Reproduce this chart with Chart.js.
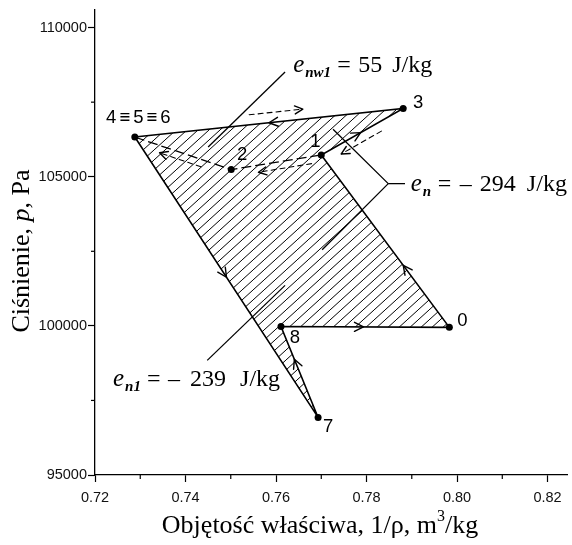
<!DOCTYPE html>
<html>
<head>
<meta charset="utf-8">
<script src="https://cdn.jsdelivr.net/npm/chart.js@4/dist/chart.umd.min.js"></script>
<style>
  html, body { margin: 0; padding: 0; background: #fff; }
</style>
</head>
<body>
<canvas id="c" width="572" height="545"></canvas>
<script>
// state points of the cycle: specific volume 1/rho [m3/kg], pressure p [Pa]
const pointNames  = ['0', '1', '2', '3', '4', '7', '8'];
const specVolume  = [0.7983, 0.7700, 0.7501, 0.7881, 0.7288, 0.7693, 0.7611];
const pressure    = [99950, 105730, 105240, 107290, 106330, 96930, 99980];
const pointLabels = ['0', '1', '2', '3', '4≡5≡6', '7', '8'];

// order of points along the closed (hatched) cycle and the dashed branch
const cycleOrder  = ['4', '3', '1', '0', '8', '7', '4'];
const dashedOrder = ['4', '2', '1'];

// axis ticks (major labelled, minor unlabelled)
const xTickValues = [0.72, 0.74, 0.76, 0.78, 0.80, 0.82];
const xTickLabels = ['0.72', '0.74', '0.76', '0.78', '0.80', '0.82'];
const xMinorTicks = [0.73, 0.75, 0.77, 0.79, 0.81];
const yTickValues = [95000, 100000, 105000, 110000];
const yTickLabels = ['95000', '100000', '105000', '110000'];
const yMinorTicks = [97500, 102500, 107500];

const pt = name => {
  const i = pointNames.indexOf(name);
  return { x: specVolume[i], y: pressure[i] };
};

// hatch pattern for the enclosed area (lines rising to the right)
const hatch = (function () {
  const w = 11, h = 10;
  const pc = document.createElement('canvas');
  pc.width = w; pc.height = h;
  const g = pc.getContext('2d');
  g.strokeStyle = '#000';
  g.lineWidth = 1.0;
  g.beginPath();
  for (let k = -1; k <= 1; k++) { g.moveTo(k * w, h); g.lineTo(k * w + w, 0); }
  g.stroke();
  return document.getElementById('c').getContext('2d').createPattern(pc, 'repeat');
})();

// --- annotation geometry (data units) ---
const enw1Leader = [[0.7620, 108510], [0.7450, 105994]];
const enLeader   = [[0.7726, 106590], [0.7848, 104769], [0.7702, 102550]];
const enTick     = [[0.7848, 104769], [0.7885, 104769]];
const en1Leader  = [[0.7620, 101358], [0.7448, 98842]];

// energy labels: anchor (data units) + pieces [text, dx, kind]
const energyTexts = [
  { at: [0.7638, 108510], parts: [['e', 0, 'it'], ['nw1', 12, 'sub'], ['=', 44, 'rm'], ['55', 65, 'rm'], ['J/kg', 99, 'rm']] },
  { at: [0.7898, 104537], parts: [['e', 0, 'it'], ['n', 12, 'sub'], ['=', 27, 'rm'], ['\u2013', 49, 'rm'], ['294', 69, 'rm'], ['J/kg', 116, 'rm']] },
  { at: [0.7240, 97981],  parts: [['e', 0, 'it'], ['n1', 12, 'sub'], ['=', 34, 'rm'], ['\u2013', 55, 'rm'], ['239', 77, 'rm'], ['J/kg', 127, 'rm']] }
];

// direction arrows on the solid cycle: [from, to, fraction]
const cycleArrows = [['3', '4', 0.50], ['4', '7', 0.50], ['7', '8', 0.64], ['8', '0', 0.49], ['0', '1', 0.36], ['1', '3', 0.48]];
// dashed side arrows: [from, to, t0, t1, offset px]
const sideArrows = [['4', '3', 0.43, 0.63, -10], ['3', '1', 0.32, 0.81, -9], ['1', '2', 0.12, 0.71, -7], ['2', '4', 0.29, 0.72, -7]];

// label offsets (px) for the state points
const labelOffsets = { '0': [13, -6], '1': [-6, -13], '2': [11, -15], '3': [15, -6], '4': [5, -19], '7': [10, 9], '8': [14, 11] };

function vArrow(ctx, x, y, ang, len, half) {
  const bx = x - Math.cos(ang) * len, by = y - Math.sin(ang) * len;
  const nx = -Math.sin(ang) * half, ny = Math.cos(ang) * half;
  ctx.beginPath();
  ctx.moveTo(bx + nx, by + ny);
  ctx.lineTo(x, y);
  ctx.lineTo(bx - nx, by - ny);
  ctx.stroke();
}

const overlay = {
  id: 'overlay',
  afterDraw(chart) {
    const ctx = chart.ctx, xs = chart.scales.x, ys = chart.scales.y;
    const P = (x, y) => [xs.getPixelForValue(x), ys.getPixelForValue(y)];
    const PN = n => { const p = pt(n); return P(p.x, p.y); };
    ctx.save();
    ctx.strokeStyle = '#000';
    ctx.fillStyle = '#000';
    ctx.lineJoin = 'round';

    // minor ticks
    ctx.lineWidth = 1.2;
    ctx.lineCap = 'butt';
    xMinorTicks.forEach(v => {
      const px = xs.getPixelForValue(v);
      ctx.beginPath(); ctx.moveTo(px, xs.top); ctx.lineTo(px, xs.top + 4); ctx.stroke();
    });
    yMinorTicks.forEach(v => {
      const py = ys.getPixelForValue(v);
      ctx.beginPath(); ctx.moveTo(ys.right, py); ctx.lineTo(ys.right - 4, py); ctx.stroke();
    });
    ctx.lineCap = 'round';

    // cycle direction arrows
    ctx.lineWidth = 1.4;
    cycleArrows.forEach(([a, b, t]) => {
      const A = PN(a), B = PN(b);
      const x = A[0] + (B[0] - A[0]) * t, y = A[1] + (B[1] - A[1]) * t;
      vArrow(ctx, x, y, Math.atan2(B[1] - A[1], B[0] - A[0]), 9, 4.5);
    });

    // dashed side arrows
    sideArrows.forEach(([a, b, t0, t1, off]) => {
      const A = PN(a), B = PN(b);
      const dx = B[0] - A[0], dy = B[1] - A[1], L = Math.hypot(dx, dy);
      const nx = -dy / L * off, ny = dx / L * off;
      const x0 = A[0] + dx * t0 + nx, y0 = A[1] + dy * t0 + ny;
      const x1 = A[0] + dx * t1 + nx, y1 = A[1] + dy * t1 + ny;
      ctx.lineWidth = 1.1;
      ctx.setLineDash([5, 4]);
      ctx.beginPath(); ctx.moveTo(x0, y0); ctx.lineTo(x1, y1); ctx.stroke();
      ctx.setLineDash([]);
      ctx.lineWidth = 1.4;
      vArrow(ctx, x1, y1, Math.atan2(dy, dx), 8, 4);
    });

    // leader lines
    ctx.lineWidth = 1.3;
    ctx.lineCap = 'butt';
    [enw1Leader, enLeader, enTick, en1Leader].forEach(line => {
      ctx.beginPath();
      line.forEach(([x, y], i) => { const p = P(x, y); i ? ctx.lineTo(p[0], p[1]) : ctx.moveTo(p[0], p[1]); });
      ctx.stroke();
    });

    // energy labels
    ctx.textBaseline = 'alphabetic';
    ctx.textAlign = 'left';
    energyTexts.forEach(t => {
      const [x0, y0] = P(t.at[0], t.at[1]);
      t.parts.forEach(([s, dx, kind]) => {
        if (kind === 'it') { ctx.font = 'italic 25px "Liberation Serif"'; ctx.fillText(s, x0 + dx, y0); }
        else if (kind === 'sub') { ctx.font = 'italic bold 15px "Liberation Serif"'; ctx.fillText(s, x0 + dx, y0 + 5); }
        else { ctx.font = '24px "Liberation Serif"'; ctx.fillText(s, x0 + dx, y0); }
      });
    });

    // point labels
    ctx.font = '18.5px "Liberation Sans"';
    ctx.textAlign = 'center';
    ctx.textBaseline = 'middle';
    pointNames.forEach((n, i) => {
      const [x, y] = PN(n), o = labelOffsets[n];
      ctx.letterSpacing = pointLabels[i].length > 1 ? '3px' : '0px';
      ctx.fillText(pointLabels[i], x + o[0], y + o[1]);
    });
    ctx.letterSpacing = '0px';

    // x axis title
    ctx.textBaseline = 'alphabetic';
    ctx.textAlign = 'left';
    const tf = '26px "Liberation Serif"';
    const xParts = [['Objętość właściwa, 1/ρ, m', tf, 0], ['3', '16px "Liberation Serif"', -12], ['/kg', tf, 0]];
    let w = 0;
    xParts.forEach(([s, f]) => { ctx.font = f; w += ctx.measureText(s).width; });
    let cx = (xs.left + xs.right) / 2 - w / 2 - 11;
    const by = 533;
    xParts.forEach(([s, f, dy]) => { ctx.font = f; ctx.fillText(s, cx, by + dy); cx += ctx.measureText(s).width; });

    // y axis title (rotated)
    const yParts = [['Ciśnienie, ', tf], ['p', 'italic 26px "Liberation Serif"'], [', Pa', tf]];
    w = 0;
    yParts.forEach(([s, f]) => { ctx.font = f; w += ctx.measureText(s).width; });
    ctx.translate(29, 251);
    ctx.rotate(-Math.PI / 2);
    cx = -w / 2;
    yParts.forEach(([s, f]) => { ctx.font = f; ctx.fillText(s, cx, 0); cx += ctx.measureText(s).width; });

    ctx.restore();
  }
};

const labelFor = (vals, labels, v, tol) => {
  const i = vals.findIndex(t => Math.abs(t - v) < tol);
  return i >= 0 ? labels[i] : '';
};
const tickFont = { family: '"Liberation Sans", Arial, sans-serif', size: 14.5 };

new Chart(document.getElementById('c'), {
  type: 'scatter',
  data: {
    datasets: [
      {
        label: 'points',
        data: pointNames.map(pt),
        showLine: false,
        pointRadius: 3.5,
        pointBackgroundColor: '#000',
        pointBorderColor: '#000',
        pointBorderWidth: 0
      },
      {
        label: 'dashed',
        data: dashedOrder.map(pt),
        showLine: true,
        borderColor: '#000',
        borderWidth: 1.3,
        borderDash: [10, 4],
        pointRadius: 0,
        fill: false
      },
      {
        label: 'cycle',
        data: cycleOrder.map(pt),
        showLine: true,
        borderColor: '#000',
        borderWidth: 1.6,
        backgroundColor: hatch,
        fill: 'shape',
        pointRadius: 0,
        tension: 0
      }
    ]
  },
  options: {
    responsive: false,
    animation: false,
    devicePixelRatio: 1,
    layout: { padding: { top: 4, right: 5, left: 0, bottom: 0 } },
    plugins: { legend: { display: false }, tooltip: { enabled: false } },
    scales: {
      x: {
        type: 'linear',
        min: 0.72,
        max: 0.8243,
        afterFit: s => { s.height = 70; },
        afterBuildTicks: s => { s.ticks = xTickValues.map(v => ({ value: v })); },
        border: { display: true, color: '#000', width: 1.3 },
        grid: { drawOnChartArea: false, tickLength: 7, tickWidth: 1.2, tickColor: '#000' },
        ticks: {
          autoSkip: false,
          maxRotation: 0,
          padding: 7,
          color: '#111',
          font: tickFont,
          callback: v => labelFor(xTickValues, xTickLabels, v, 1e-6)
        }
      },
      y: {
        type: 'linear',
        min: 95000,
        max: 110600,
        afterFit: s => { s.width = 95; },
        afterBuildTicks: s => { s.ticks = yTickValues.map(v => ({ value: v })); },
        border: { display: true, color: '#000', width: 1.3 },
        grid: { drawOnChartArea: false, tickLength: 7, tickWidth: 1.2, tickColor: '#000' },
        ticks: {
          autoSkip: false,
          padding: 1,
          color: '#111',
          font: tickFont,
          callback: v => labelFor(yTickValues, yTickLabels, v, 1e-3)
        }
      }
    }
  },
  plugins: [overlay]
});
</script>
</body>
</html>
